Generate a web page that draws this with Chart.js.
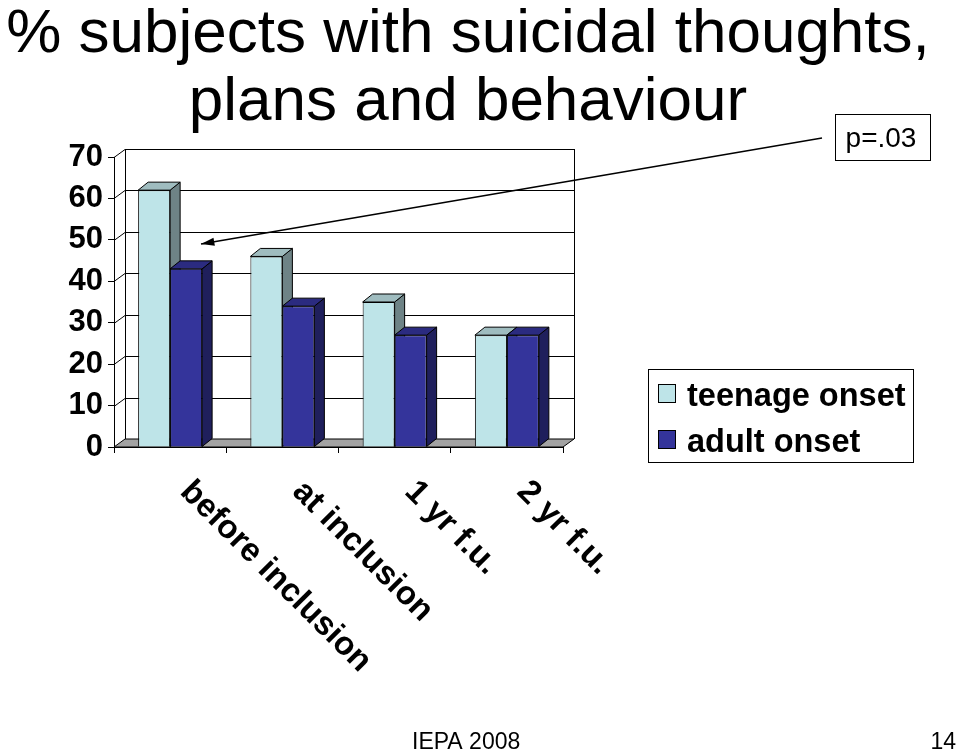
<!DOCTYPE html>
<html>
<head>
<meta charset="utf-8">
<title>% subjects with suicidal thoughts, plans and behaviour</title>
<script src="https://cdn.jsdelivr.net/npm/chart.js@4.4.1/dist/chart.umd.min.js"></script>
<style>
  html, body { margin: 0; padding: 0; background: #fff; }
  #wrap { width: 960px; height: 753px; position: relative; }
</style>
</head>
<body>
<div id="wrap"><canvas id="chart"></canvas></div>
<script>
/* Suicidal thoughts by onset group — 3D-look column chart */

const CATEGORIES = ['before inclusion', 'at inclusion', '1 yr f.u.', '2 yr f.u.'];
const TEENAGE_ONSET = [62, 46, 35, 27];
const ADULT_ONSET = [43, 34, 27, 27];
const Y_TICKS = [0, 10, 20, 30, 40, 50, 60, 70];
const TITLE_LINES = ['% subjects with suicidal thoughts,', 'plans and behaviour'];
const P_LABEL = 'p=.03';
const FOOTER_LEFT = 'IEPA 2008';
const FOOTER_RIGHT = '14';

const FONT = "'Liberation Sans', Arial, Helvetica, sans-serif";

const TEEN = { front: '#bee4e8', side: '#6e8386', top: '#9fbcbf' };
const ADULT = { front: '#34349b', side: '#1f1f5c', top: '#2b2b80' };
const FLOOR = '#a3a3a3';

// depth of the back wall and of each bar
const WALL_DX = 11, WALL_DY = 8;
const BAR_DX = 10, BAR_DY = 8;

const depthPlugin = {
  id: 'depth',
  beforeDatasetsDraw(chart) {
    const { ctx, chartArea: a, scales: { y } } = chart;
    ctx.save();
    ctx.lineWidth = 1;
    ctx.strokeStyle = '#000';

    // floor
    ctx.fillStyle = FLOOR;
    ctx.beginPath();
    ctx.moveTo(a.left, a.bottom);
    ctx.lineTo(a.right, a.bottom);
    ctx.lineTo(a.right + WALL_DX, a.bottom - WALL_DY);
    ctx.lineTo(a.left + WALL_DX, a.bottom - WALL_DY);
    ctx.closePath();
    ctx.fill();
    ctx.stroke();

    // back wall grid + side wall diagonals
    Y_TICKS.forEach(v => {
      if (v === 0) return;
      const py = Math.round(y.getPixelForValue(v)) + 0.5;
      ctx.beginPath();
      ctx.moveTo(a.left, py);
      ctx.lineTo(a.left + WALL_DX, py - WALL_DY);
      ctx.lineTo(a.right + WALL_DX, py - WALL_DY);
      ctx.stroke();
    });
    ctx.beginPath();
    ctx.moveTo(a.left + WALL_DX + 0.5, a.bottom - WALL_DY);
    ctx.lineTo(a.left + WALL_DX + 0.5, a.top - WALL_DY);
    ctx.moveTo(a.right + WALL_DX + 0.5, a.bottom - WALL_DY);
    ctx.lineTo(a.right + WALL_DX + 0.5, a.top - WALL_DY);
    ctx.stroke();

    // side and top faces of every bar (fronts are drawn by Chart.js on top)
    chart.data.datasets.forEach((ds, di) => {
      const meta = chart.getDatasetMeta(di);
      const pal = ds.palette;
      meta.data.forEach(bar => {
        const l = bar.x - bar.width / 2, r = bar.x + bar.width / 2;
        const t = bar.y, b = bar.base;
        ctx.fillStyle = pal.side;
        ctx.beginPath();
        ctx.moveTo(r, t);
        ctx.lineTo(r + BAR_DX, t - BAR_DY);
        ctx.lineTo(r + BAR_DX, b - BAR_DY);
        ctx.lineTo(r, b);
        ctx.closePath();
        ctx.fill();
        ctx.stroke();
        ctx.fillStyle = pal.top;
        ctx.beginPath();
        ctx.moveTo(l, t);
        ctx.lineTo(l + BAR_DX, t - BAR_DY);
        ctx.lineTo(r + BAR_DX, t - BAR_DY);
        ctx.lineTo(r, t);
        ctx.closePath();
        ctx.fill();
        ctx.stroke();
      });
    });
    ctx.restore();
  },
  afterDraw(chart) {
    const { ctx, scales: { x } } = chart;
    ctx.save();
    ctx.fillStyle = '#000';
    ctx.strokeStyle = '#000';

    // title
    ctx.font = `62px ${FONT}`;
    ctx.textAlign = 'center';
    ctx.textBaseline = 'alphabetic';
    ctx.fillText(TITLE_LINES[0], 468, 52);
    ctx.fillText(TITLE_LINES[1], 468, 120);

    // slanted category labels
    ctx.font = `bold 33px ${FONT}`;
    ctx.textAlign = 'left';
    ctx.textBaseline = 'top';
    CATEGORIES.forEach((lab, i) => {
      ctx.save();
      ctx.translate(x.getPixelForValue(i) + 27, 475);
      ctx.rotate(Math.PI / 4);
      ctx.fillText(lab, 0, 0);
      ctx.restore();
    });

    // p-value box with arrow
    ctx.lineWidth = 1;
    ctx.strokeRect(835.5, 114.5, 95, 46);
    ctx.font = `28px ${FONT}`;
    ctx.textAlign = 'center';
    ctx.textBaseline = 'middle';
    ctx.fillText(P_LABEL, 881, 139);
    const x0 = 822, y0 = 138, x1 = 201, y1 = 244;
    ctx.lineWidth = 1.5;
    ctx.beginPath();
    ctx.moveTo(x0, y0);
    ctx.lineTo(x1, y1);
    ctx.stroke();
    const ang = Math.atan2(y1 - y0, x1 - x0);
    ctx.beginPath();
    ctx.moveTo(x1, y1);
    ctx.lineTo(x1 - 14 * Math.cos(ang - 0.3), y1 - 14 * Math.sin(ang - 0.3));
    ctx.lineTo(x1 - 14 * Math.cos(ang + 0.3), y1 - 14 * Math.sin(ang + 0.3));
    ctx.closePath();
    ctx.fill();

    // legend
    ctx.lineWidth = 1;
    ctx.strokeRect(648.5, 369.5, 265, 93);
    ctx.font = `bold 32.5px ${FONT}`;
    ctx.textAlign = 'left';
    ctx.textBaseline = 'alphabetic';
    chart.data.datasets.forEach((ds, i) => {
      const sy = 384 + i * 46;
      ctx.fillStyle = ds.backgroundColor;
      ctx.fillRect(658, sy, 18, 19);
      ctx.strokeRect(658.5, sy + 0.5, 17, 18);
      ctx.fillStyle = '#000';
      ctx.fillText(ds.label, 687, sy + 22);
    });

    // footer
    ctx.font = `23px ${FONT}`;
    ctx.fillText(FOOTER_LEFT, 412, 749);
    ctx.textAlign = 'right';
    ctx.fillText(FOOTER_RIGHT, 956, 749);
    ctx.restore();
  }
};

new Chart(document.getElementById('chart'), {
  type: 'bar',
  data: {
    labels: CATEGORIES,
    datasets: [
      {
        label: 'teenage onset',
        data: TEENAGE_ONSET,
        backgroundColor: TEEN.front,
        borderColor: '#000',
        borderWidth: 1,
        palette: TEEN,
      },
      {
        label: 'adult onset',
        data: ADULT_ONSET,
        backgroundColor: ADULT.front,
        borderColor: '#000',
        borderWidth: 1,
        palette: ADULT,
      }
    ]
  },
  options: {
    responsive: true,
    maintainAspectRatio: false,
    animation: false,
    datasets: { bar: { categoryPercentage: 0.57, barPercentage: 1 } },
    layout: { padding: { left: 0, top: 157, right: 397, bottom: 300 } },
    plugins: {
      legend: { display: false },
      title: { display: false },
      tooltip: { enabled: false }
    },
    scales: {
      x: {
        grid: { offset: true, drawOnChartArea: false, drawTicks: true, tickLength: 6, color: '#000' },
        border: { display: true, color: '#000' },
        ticks: { display: false },
        afterFit: s => { s.height = 6; }
      },
      y: {
        min: 0,
        max: 70,
        afterBuildTicks: s => { s.ticks = Y_TICKS.map(v => ({ value: v })); },
        grid: { drawOnChartArea: false, tickLength: 6, color: '#000' },
        border: { display: true, color: '#000' },
        ticks: { color: '#000', padding: 5, font: { family: FONT, size: 31, weight: 'bold' } },
        afterFit: s => { s.width = 114; }
      }
    }
  },
  plugins: [depthPlugin]
});
</script>
</body>
</html>
